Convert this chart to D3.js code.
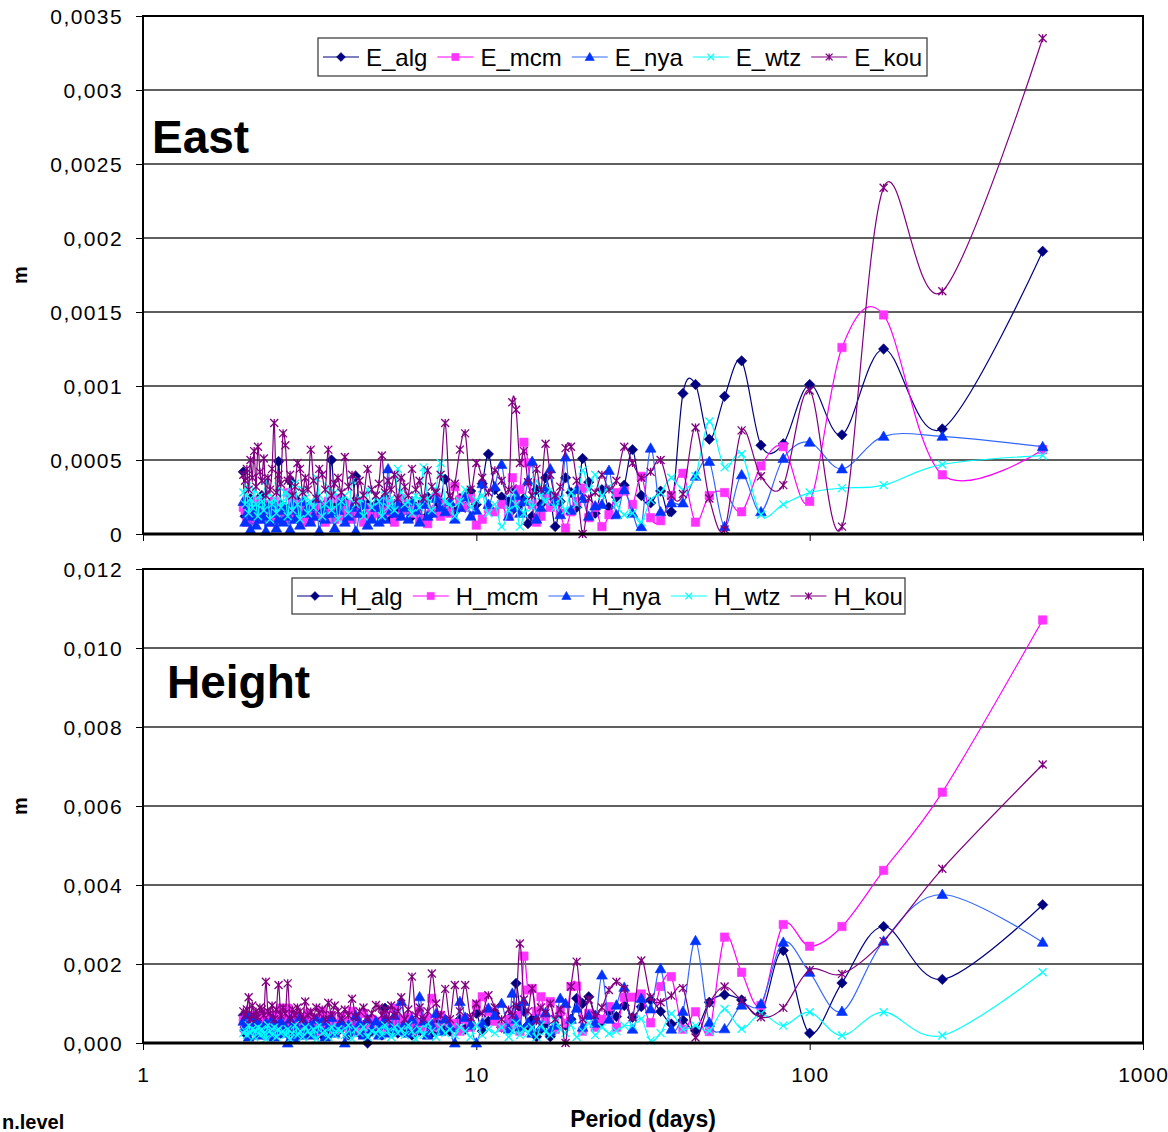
<!DOCTYPE html>
<html>
<head>
<meta charset="utf-8">
<script src="https://cdn.jsdelivr.net/npm/d3@7"></script>
<style>
  body { margin: 0; background: #fff; }
  svg { display: block; font-family: "Liberation Sans", Arial, sans-serif; }
</style>
</head>
<body>
<svg id="chart" width="1168" height="1132"></svg>
<script>
// spectrum of a 500 day record: period = recordDays / harmonic
const recordDays = 500;
const harmonicRuns = [[1, 40, 1], [42, 100, 2], [103, 250, 3]];

const xTicks = [1, 10, 100, 1000];
const eastTicks = [0, 0.0005, 0.001, 0.0015, 0.002, 0.0025, 0.003, 0.0035];
const eastTickLabels = ["0", "0,0005", "0,001", "0,0015", "0,002", "0,0025", "0,003", "0,0035"];
const heightTicks = [0, 0.002, 0.004, 0.006, 0.008, 0.010, 0.012];
const heightTickLabels = ["0,000", "0,002", "0,004", "0,006", "0,008", "0,010", "0,012"];

// amplitudes, units of 1e-5 m, one value per harmonic above
const eAlg = [191,71,125,67,101,61,60,117,93,64, 101,95,15,29,21,26,57,33,25,18,
  30,14,35,51,18,28,38,22,5,26, 38,20,30,12,7,24,20,30,16,22,
  25,30,54,34,20,29,18,24,15,20, 37,22,18,14,25,10,20,16,12,18,
  20,14,22,16,10,18,24,12,15,20, 15,20,12,18,39,14,10,22,16,12,
  18,50,14,20,10,16,22,12,18,14, 12,20,16,10,24,14,36,12,18,15,
  20,49,12,16,22,10,18,14,20,26, 16,12,22,18,10,24,14,20,12,42];
const eMcm = [57,40,148,126,22,59,46,15,28,26, 8,41,26,9,11,39,20,29,28,13,
  5,18,11,31,22,15,4,14,24,18, 26,12,8,20,48,62,30,22,38,12,
  20,15,17,10,6,24,18,23,32,14, 20,12,25,16,7,22,10,18,14,20,
  16,24,12,8,20,15,22,10,18,14, 12,18,8,22,14,10,20,16,12,24,
  10,16,22,8,14,18,12,20,10,16, 14,8,20,12,16,24,10,28,14,12,
  18,10,16,22,12,8,20,14,18,10, 16,22,12,10,20,14,18,8,16,18];
const eNya = [59,66,66,44,62,51,15,40,5,49, 39,21,21,15,58,5,14,30,13,43,
  20,19,12,24,30,16,52,13,22,44, 30,18,10,49,36,22,14,26,18,12,
  47,32,20,34,16,12,25,18,10,22, 15,18,24,14,12,20,8,16,22,10,
  18,12,20,14,16,44,10,22,8,18, 10,6,20,14,2,18,12,8,22,16,
  4,14,20,10,16,2,24,12,8,18, 14,22,6,16,10,20,3,12,18,8,
  16,10,4,20,14,8,18,2,12,22, 10,16,6,18,12,3,20,14,8,22];
const eWtz = [53,47,33,31,28,20,13,54,45,76, 39,30,38,28,23,8,14,13,20,32,
  26,40,30,43,20,28,16,24,18,30, 22,26,36,18,24,14,5,20,28,16,
  5,20,14,26,23,18,30,22,12,20, 22,48,30,16,24,45,18,26,14,22,
  20,28,44,16,24,18,30,12,22,26, 18,30,12,24,20,36,14,26,22,10,
  28,16,32,20,12,26,38,18,22,14, 24,30,10,20,34,16,26,12,28,22,
  18,32,14,24,20,10,28,36,16,22, 26,12,20,30,18,24,14,32,20,28];
const eKou = [335,164,234,5,97,33,39,70,3,24, 72,27,26,50,42,38,48,59,36,30,
  40,28,24,0,36,59,58,32,26,40, 61,30,44,26,35,56,48,84,89,30,
  36,43,28,38,48,30,68,57,34,26, 75,40,28,32,43,24,36,30,44,26,
  32,38,24,40,30,36,28,53,34,26, 30,44,26,36,22,40,32,52,28,38,
  34,26,57,30,40,44,24,36,57,30, 38,28,44,48,32,26,40,36,60,68,
  34,40,28,75,44,30,38,26,51,36, 42,59,32,56,38,50,30,44,36,40];

const hAlg = [350,161,295,152,25,234,75,109,122,103, 31,58,48,80,109,92,65,95,67,80,
  55,70,117,100,113,60,45,75,40,16, 50,35,16,60,45,80,90,151,70,55,
  40,75,55,30,75,50,35,60,45,30, 50,35,55,25,45,60,30,40,20,50,
  35,45,25,55,40,30,88,20,45,35, 30,0,45,25,55,35,20,50,40,30,
  45,25,60,35,20,50,30,40,55,25, 35,50,20,45,30,60,25,40,35,50,
  25,45,35,55,20,40,30,50,35,45, 40,25,50,30,45,35,55,20,40,70];
const hMcm = [1071,635,437,295,245,300,95,179,268,29, 79,35,168,143,51,124,116,116,40,92,
  60,40,75,30,144,143,50,80,35,105, 60,117,80,138,134,220,30,70,45,60,
  40,55,80,117,96,40,60,30,50,45, 55,70,40,113,60,35,80,50,30,65,
  45,60,35,88,50,40,70,30,55,45, 60,35,75,45,30,80,55,40,65,50,
  35,70,50,45,80,30,60,55,40,75, 50,40,65,35,70,55,45,88,30,60,
  88,45,55,70,35,60,50,40,75,45, 55,35,70,45,60,40,50,65,35,58];
const hNya = [255,376,258,80,179,255,99,96,36,52, 259,80,35,188,86,113,35,141,96,60,
  172,50,70,40,88,60,100,113,45,30, 77,40,60,25,50,105,40,60,126,35,
  100,70,88,50,0,45,65,105,0,40, 60,30,75,45,20,55,117,35,60,25,
  50,105,30,70,40,25,60,45,20,55, 35,60,20,50,70,30,45,0,55,40,
  25,65,40,15,55,35,60,20,45,30, 50,20,65,35,10,45,60,0,40,25,
  55,30,45,15,60,35,20,50,40,25, 45,20,55,35,60,30,15,71,40,55];
const hWtz = [179,19,78,19,78,44,74,36,86,31, 44,35,74,25,6,61,44,44,30,24,
  40,20,50,30,15,45,25,35,55,20, 30,45,15,40,25,35,20,50,30,15,
  40,25,35,20,45,15,30,40,20,35, 25,40,15,30,50,20,35,10,30,45,
  20,35,25,40,15,30,45,20,35,25, 30,15,40,25,35,10,45,20,30,35,
  20,40,15,30,25,45,10,35,20,30, 40,15,30,20,45,25,10,35,20,30,
  25,35,15,40,20,30,45,10,25,35, 20,40,30,15,35,25,45,20,30,25];
const hKou = [705,441,258,175,185,89,65,107,143,101, 14,139,120,103,116,209,65,137,155,134,
  90,70,110,60,206,143,0,85,60,100, 75,90,55,138,80,110,252,95,70,85,
  60,90,121,75,100,65,147,80,147,60, 137,70,100,176,80,60,90,70,168,85,
  60,116,80,70,95,60,85,70,90,96, 75,60,90,80,65,112,70,85,60,80,
  95,70,102,60,85,75,90,65,80,70, 105,60,80,90,70,85,60,151,75,90,
  70,147,85,60,95,75,80,155,70,85, 90,65,80,70,95,60,116,85,70,80];

const stations = ["alg", "mcm", "nya", "wtz", "kou"];

// ---- styles ----
const styles = {
  alg: { fill: "#000080", line: "#000080", marker: "diamond", size: 5.2 },
  mcm: { fill: "#FF33FF", line: "#FF00FF", marker: "square", size: 4.2 },
  nya: { fill: "#0033FF", line: "#3366FF", marker: "triangle", size: 5.4 },
  wtz: { fill: "#00FFFF", line: "#00FFFF", marker: "cross", size: 4 },
  kou: { fill: "#800080", line: "#800080", marker: "star", size: 4 }
};

const markerPath = {
  diamond: s => `M0,${-s}L${s},0L0,${s}L${-s},0Z`,
  square: s => `M${-s},${-s}H${s}V${s}H${-s}Z`,
  triangle: s => `M0,${-s}L${s},${s * 0.75}L${-s},${s * 0.75}Z`,
  cross: s => `M${-s},${-s}L${s},${s}M${s},${-s}L${-s},${s}`,
  star: s => `M${-s},${-s}L${s},${s}M${s},${-s}L${-s},${s}M0,${-s}V${s}`
};

const harmonics = [];
harmonicRuns.forEach(([a, b, step]) => { for (let j = a; j <= b; j += step) harmonics.push(j); });
const periods = harmonics.map(j => recordDays / j);

const svg = d3.select("#chart");
const plotLeft = 143, plotRight = 1143;
const x = d3.scaleLog().domain([1, 1000]).range([plotLeft, plotRight]);

function drawMarker(g, st, cx, cy, scale = 1) {
  const stroked = st.marker === "cross" || st.marker === "star";
  g.append("path")
    .attr("transform", `translate(${cx},${cy})`)
    .attr("d", markerPath[st.marker](st.size * scale))
    .attr("fill", stroked ? "none" : st.fill)
    .attr("stroke", st.fill)
    .attr("stroke-width", stroked ? 1.3 : 0.6);
}

function drawPanel(cfg) {
  const y = d3.scaleLinear().domain([0, cfg.yMax]).range([cfg.bottom, cfg.top]);
  const g = svg.append("g");
  const clipId = "clip-" + cfg.prefix;
  svg.append("clipPath").attr("id", clipId)
    .append("rect").attr("x", plotLeft).attr("y", cfg.top)
    .attr("width", plotRight - plotLeft).attr("height", cfg.bottom - cfg.top);

  // gridlines
  g.selectAll(".grid").data(cfg.ticks.slice(1, -1)).join("line")
    .attr("x1", plotLeft).attr("x2", plotRight)
    .attr("y1", d => y(d)).attr("y2", d => y(d))
    .attr("stroke", "#2a2a2a").attr("stroke-width", 1.3);

  // y axis ticks + labels
  const yAxis = d3.axisLeft(y).tickValues(cfg.ticks).tickSize(7)
    .tickFormat((d, i) => cfg.tickLabels[i]);
  g.append("g").attr("transform", `translate(${plotLeft},0)`).call(yAxis)
    .call(a => a.select(".domain").remove())
    .call(a => a.selectAll("line").attr("stroke", "#000"))
    .call(a => a.selectAll("text").attr("font-size", 21).attr("fill", "#000")
      .attr("font-family", "Liberation Sans, Arial, sans-serif")
      .attr("letter-spacing", 1.4).attr("x", -20).attr("dy", "0.35em"));

  // x axis ticks (labels only on lower panel)
  const xAxis = d3.axisBottom(x).tickValues(xTicks).tickSize(7)
    .tickFormat(cfg.xLabels ? d3.format("d") : "");
  g.append("g").attr("transform", `translate(0,${cfg.bottom})`).call(xAxis)
    .call(a => a.select(".domain").remove())
    .call(a => a.selectAll("line").attr("stroke", "#000"))
    .call(a => a.selectAll("text").attr("font-size", 21).attr("fill", "#000")
      .attr("font-family", "Liberation Sans, Arial, sans-serif")
      .attr("letter-spacing", 1).attr("y", 24));

  // series
  const lineGen = d3.line().curve(d3.curveCardinal.tension(0))
    .x(d => x(d.p)).y(d => y(d.v));
  cfg.series.forEach((vals, si) => {
    const st = styles[stations[si]];
    const pts = vals.map((v, i) => ({ p: periods[i], v: v * 1e-5 }));
    const sg = g.append("g");
    sg.append("path").datum(pts)
      .attr("clip-path", `url(#${clipId})`)
      .attr("d", lineGen).attr("fill", "none")
      .attr("stroke", st.line).attr("stroke-width", 1.2);
    pts.forEach(d => drawMarker(sg, st, x(d.p), y(d.v)));
  });

  // frame
  g.append("rect").attr("x", plotLeft).attr("y", cfg.top)
    .attr("width", plotRight - plotLeft).attr("height", cfg.bottom - cfg.top)
    .attr("fill", "none").attr("stroke", "#000").attr("stroke-width", 2);
  g.append("line").attr("x1", plotLeft).attr("x2", plotRight)
    .attr("y1", cfg.bottom).attr("y2", cfg.bottom)
    .attr("stroke", "#000").attr("stroke-width", 3);

  // legend
  const lg = g.append("g");
  const box = cfg.legend;
  lg.append("rect").attr("x", box.x).attr("y", box.y).attr("width", box.w).attr("height", box.h)
    .attr("fill", "#fff").attr("stroke", "#333").attr("stroke-width", 1.2);
  let lx = box.x + 5;
  const cy = box.y + box.h / 2;
  stations.forEach(s => {
    const st = styles[s];
    lg.append("line").attr("x1", lx).attr("x2", lx + 36).attr("y1", cy).attr("y2", cy)
      .attr("stroke", st.line).attr("stroke-width", 1.2);
    drawMarker(lg, st, lx + 18, cy, 0.85);
    const t = lg.append("text").attr("x", lx + 43).attr("y", cy).attr("dy", "0.36em")
      .attr("font-size", 24).text(cfg.prefix + "_" + s);
    lx += 43 + t.node().getComputedTextLength() + 10;
  });

  // panel title
  g.append("text").attr("x", cfg.title.x).attr("y", cfg.title.y)
    .attr("font-size", 46).attr("font-weight", "bold").text(cfg.title.text);

  // y axis title
  g.append("text").attr("transform", `translate(27,${(cfg.top + cfg.bottom) / 2}) rotate(-90)`)
    .attr("text-anchor", "middle").attr("font-size", 20).attr("font-weight", "bold").text("m");
}

drawPanel({
  prefix: "E", top: 16, bottom: 534, yMax: 0.0035,
  ticks: eastTicks, tickLabels: eastTickLabels, xLabels: false,
  series: [eAlg, eMcm, eNya, eWtz, eKou],
  legend: { x: 318, y: 38, w: 609, h: 38 },
  title: { text: "East", x: 152, y: 153 }
});

drawPanel({
  prefix: "H", top: 569, bottom: 1043, yMax: 0.012,
  ticks: heightTicks, tickLabels: heightTickLabels, xLabels: true,
  series: [hAlg, hMcm, hNya, hWtz, hKou],
  legend: { x: 292, y: 578, w: 613, h: 36 },
  title: { text: "Height", x: 167, y: 698 }
});

svg.append("text").attr("x", 643).attr("y", 1127).attr("text-anchor", "middle")
  .attr("font-size", 23).attr("font-weight", "bold").text("Period (days)");
svg.append("text").attr("x", 2).attr("y", 1129)
  .attr("font-size", 20).attr("font-weight", "bold").text("n.level");
</script>
</body>
</html>
